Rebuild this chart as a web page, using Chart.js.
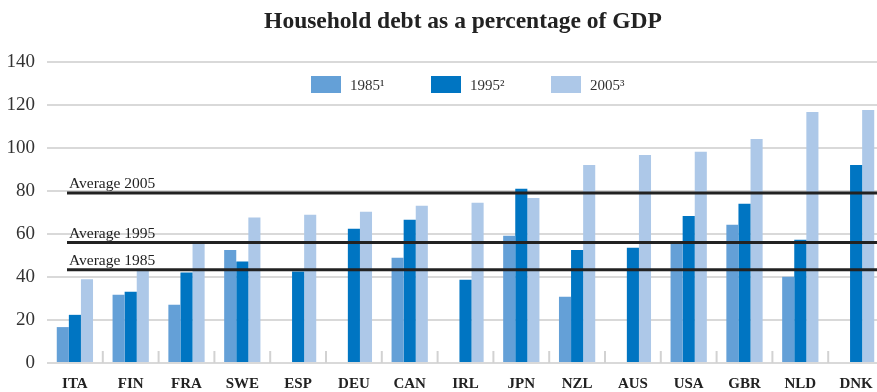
<!DOCTYPE html>
<html>
<head>
<meta charset="utf-8">
<title>Household debt as a percentage of GDP</title>
<script src="https://cdn.jsdelivr.net/npm/chart.js@4/dist/chart.umd.min.js"></script>
<style>
    html, body { margin: 0; padding: 0; background: #fff; overflow: hidden; }
    #wrap { position: relative; width: 884px; height: 392px; }
</style>
</head>
<body>
<div id="wrap"><canvas id="debtChart" width="884" height="392"></canvas></div>
<script>
// Household debt, % of GDP
var countries = ['ITA', 'FIN', 'FRA', 'SWE', 'ESP', 'DEU', 'CAN', 'IRL', 'JPN', 'NZL', 'AUS', 'USA', 'GBR', 'NLD', 'DNK'];
var debt1985 = [16.7, 31.7, 27.1, 52.6, null, null, 48.9, null, 59.2, 30.8, null, 55.4, 64.3, 40.1, null];
var debt1995 = [22.4, 33.1, 42.1, 47.2, 42.6, 62.4, 66.6, 38.7, 81.0, 52.6, 53.6, 68.4, 74.1, 57.3, 92.1];
var debt2005 = [38.9, 43.8, 56.0, 67.7, 68.9, 70.3, 73.1, 74.5, 76.8, 92.1, 96.8, 98.2, 104.2, 116.8, 117.7];
var seriesLabels = ['1985\u00b9', '1995\u00b2', '2005\u00b3'];
var averageLabels = ['Average 2005', 'Average 1995', 'Average 1985'];
var averageValues = [79.1, 56.0, 43.4];
var yTicks = [0, 20, 40, 60, 80, 100, 120, 140];

var colors = ['#64a0d7', '#0075c2', '#adc8e8'];
var serif = "'Liberation Serif', 'DejaVu Serif', serif";

// Title, legend, average lines and category separators
var extras = {
    id: 'extras',
    afterDatasetsDraw: function(chart) {
        var ctx = chart.ctx;
        var area = chart.chartArea;
        var x = chart.scales.x;
        var y = chart.scales.y;
        ctx.save();

        // small separators between categories
        ctx.strokeStyle = '#d2d2d2';
        ctx.lineWidth = 2;
        for (var i = 0; i < countries.length - 1; i++) {
            var bx = (x.getPixelForValue(i) + x.getPixelForValue(i + 1)) / 2;
            ctx.beginPath();
            ctx.moveTo(bx, area.bottom - 12);
            ctx.lineTo(bx, area.bottom);
            ctx.stroke();
        }

        // average lines
        ctx.strokeStyle = '#222';
        ctx.lineWidth = 3;
        ctx.fillStyle = '#222';
        ctx.font = '15.5px ' + serif;
        ctx.textBaseline = 'alphabetic';
        ctx.textAlign = 'left';
        averageValues.forEach(function(v, k) {
            var py = y.getPixelForValue(v);
            ctx.beginPath();
            ctx.moveTo(67, py);
            ctx.lineTo(area.right, py);
            ctx.stroke();
            ctx.fillText(averageLabels[k], 69, py - 5);
        });

        // legend
        var lx = [311, 431, 551];
        ctx.font = '15px ' + serif;
        seriesLabels.forEach(function(lbl, k) {
            ctx.fillStyle = colors[k];
            ctx.fillRect(lx[k], 76, 30, 17);
            ctx.fillStyle = '#333';
            ctx.fillText(lbl, lx[k] + 39, 90);
        });

        // title
        ctx.fillStyle = '#222';
        ctx.font = 'bold 23.5px ' + serif;
        ctx.textAlign = 'center';
        ctx.fillText('Household debt as a percentage of GDP', 463, 28);
        ctx.restore();
    }
};

var ctx = document.getElementById('debtChart').getContext('2d');
var chart = new Chart(ctx, {
    type: 'bar',
    data: {
        labels: countries,
        datasets: [
            { label: seriesLabels[0], data: debt1985, backgroundColor: colors[0] },
            { label: seriesLabels[1], data: debt1995, backgroundColor: colors[1] },
            { label: seriesLabels[2], data: debt2005, backgroundColor: colors[2] }
        ]
    },
    options: {
        responsive: false,
        animation: false,
        devicePixelRatio: 1,
        layout: { padding: { top: 62, left: 0, right: 0, bottom: 0 } },
        datasets: {
            bar: { categoryPercentage: 0.65, barPercentage: 1.0 }
        },
        scales: {
            x: {
                grid: { display: false },
                border: { display: false },
                ticks: {
                    color: '#222',
                    font: { family: serif, size: 15, weight: 'bold' },
                    padding: 4,
                    maxRotation: 0,
                    autoSkip: false
                },
                afterFit: function(scale) { scale.height = 29; }
            },
            y: {
                min: 0,
                max: 140,
                afterBuildTicks: function(scale) {
                    scale.ticks = yTicks.map(function(v) { return { value: v }; });
                },
                grid: { color: '#d9d9d9', lineWidth: 2, drawTicks: false },
                border: { display: false },
                ticks: {
                    color: '#333',
                    font: { family: serif, size: 19 },
                    padding: 12
                },
                afterFit: function(scale) { scale.width = 47; }
            }
        },
        plugins: {
            legend: { display: false },
            title: { display: false },
            tooltip: { enabled: false }
        }
    },
    plugins: [extras]
});
</script>
</body>
</html>
